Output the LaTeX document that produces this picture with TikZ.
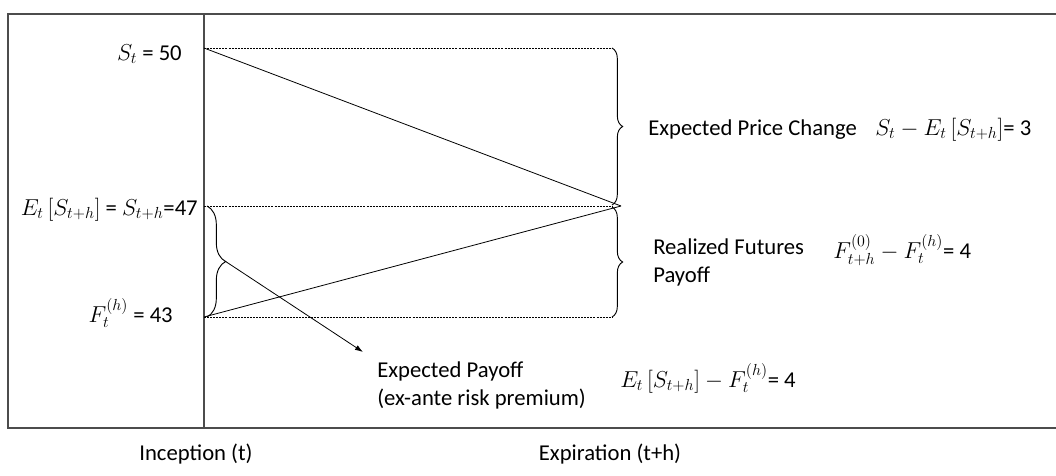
\documentclass[tikz,border=0pt]{standalone}
\usepackage{amsmath}
\usepackage{fontspec}
\setmainfont{Carlito}
\usetikzlibrary{arrows.meta,positioning,decorations.pathreplacing,calc}
\tikzset{
    frame/.style={draw=black!70, line width=0.8pt},
    pricepath/.style={draw, line width=0.6pt},
    guide/.style={draw, line width=0.5pt, dash pattern=on 1.5pt off 0.8pt},
    gap/.style={decorate, decoration={brace, amplitude=8pt}, line width=0.7pt},
    pointer/.style={-{Latex[length=6pt, width=4pt]}, line width=0.6pt},
    label/.style={inner sep=0pt, font=\fontsize{17}{21}\selectfont}
}

\begin{document}
\begin{tikzpicture}[x=0.75pt, y=-0.75pt]
    \useasboundingbox (0,0) rectangle (1056,475);
    % frame and inception line
    \draw[frame] (1056,14) -- (8,14) -- (8,428) -- (1056,428);
    \draw[frame] (204,14) -- (204,428);
    % price levels
    \coordinate (S) at (204,48);
    \coordinate (E) at (204,206);
    \coordinate (F) at (204,317);
    \coordinate (Stop) at (612,48);
    \coordinate (Emid) at (612,206);
    \coordinate (Fbot) at (612,317);
    \coordinate (meet) at (621,206);
    \draw[guide] (S) -- (Stop);
    \draw[guide] (E) -- (Emid);
    \draw[guide] (F) -- (Fbot);
    \draw[pricepath] (S) -- (meet);
    \draw[pricepath] (F) -- (meet);
    % braces
    \draw[gap] (Stop) -- (612,205) coordinate[midway, xshift=12pt] (tipA);
    \draw[gap] (612,207) -- (Fbot) coordinate[midway, xshift=12pt] (tipB);
    \draw[gap, decoration={amplitude=14pt}] (207,206) -- (207,317) coordinate[midway, xshift=14pt] (tipC);
    % labels on the left
    \node[label, anchor=base east] (spot) at (182,60) {$S_t$ = 50};
    \node[label, anchor=base east] (expect) at (198,215) {$E_t\,[S_{t+h}]$ = $S_{t+h}$=47};
    \node[label, anchor=base east] (fut) at (173,322) {$F_t^{(h)}$ = 43};
    % labels on the right
    \node[label, anchor=base west] (change) at (648,135) {Expected Price Change};
    \node[label, anchor=base west] (changeEq) at (875,135) {$S_t - E_t\,[S_{t+h}]$= 3};
    \node[label, anchor=west, align=left] (realized) at (653,262) {Realized Futures\\Payoff};
    \node[label, anchor=base west] (realizedEq) at (833,258) {$F_{t+h}^{(0)} - F_t^{(h)}$= 4};
    \node[label, anchor=west, align=left] (premium) at (377,385) {Expected Payoff\\(ex-ante risk premium)};
    \node[label, anchor=base west] (premiumEq) at (620,387) {$E_t\,[S_{t+h}] - F_t^{(h)}$= 4};
    \coordinate (aim) at (363,352);
    \draw[pointer] (tipC) -- (aim);
    % time axis
    \node[label, anchor=base] (incep) at (196,460) {Inception (t)};
    \node[label, anchor=base] (expir) at (610,460) {Expiration (t+h)};
\end{tikzpicture}
\end{document}
